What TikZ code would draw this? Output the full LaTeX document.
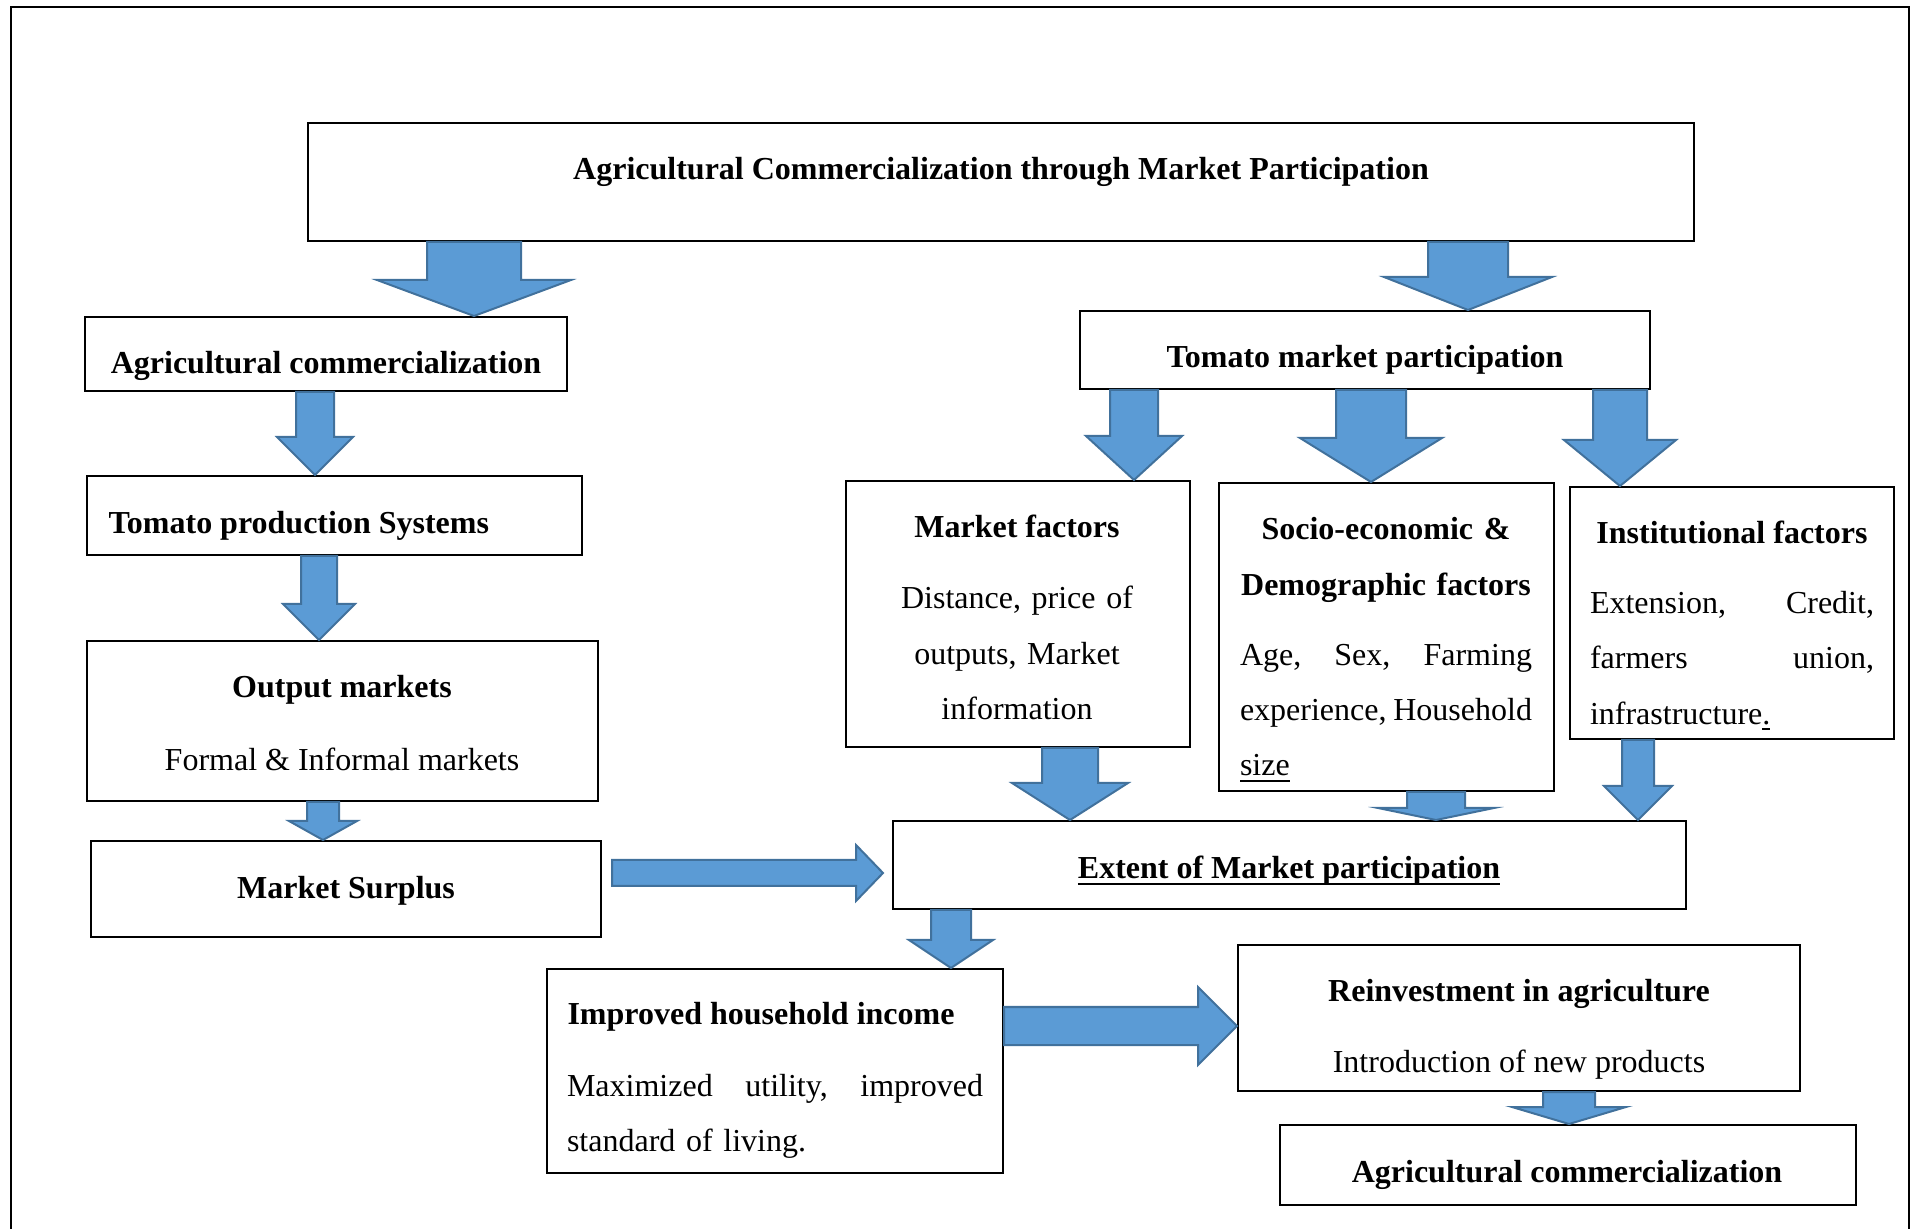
\documentclass[tikz,border=0pt]{standalone}
\usepackage{fontspec}
\setmainfont{Liberation Serif}
\usetikzlibrary{calc,fit}

\definecolor{arrowfill}{HTML}{5B9BD5}
\definecolor{arrowline}{HTML}{41719C}
\hyphenpenalty=10000
\hbadness=10000

% block arrows: from, to, shaft half width, head half width, head length
\newcommand\blkdown[5]{%
  \filldraw[blk] ($#1+(-#3,0)$) -- ($#2+(-#3,-#5)$) -- ($#2+(-#4,-#5)$) -- #2
    -- ($#2+(#4,-#5)$) -- ($#2+(#3,-#5)$) -- ($#1+(#3,0)$) -- cycle;}
% same, to the right, with a gap at each end
\newcommand\blkright[7]{%
  \filldraw[blk] ($#1+(#6,-#3)$) -- ($#2+(-#5-#7,-#3)$) -- ($#2+(-#5-#7,-#4)$) -- ($#2+(-#7,0)$)
    -- ($#2+(-#5-#7,#4)$) -- ($#2+(-#5-#7,#3)$) -- ($#1+(#6,#3)$) -- cycle;}
\newcommand\ulthick[1]{\leavevmode\setbox0\hbox{#1}\rlap{\rule[-2.4pt]{\wd0}{0.9pt}}\box0}

\begin{document}
\begin{tikzpicture}[x=0.375pt, y=-0.375pt,
factorbox/.style = {draw, line width=0.75pt, inner sep=0pt},
blk/.style = {draw=arrowline, fill=arrowfill, line width=0.75pt},
boldtext/.style = {font=\fontsize{12}{20.7}\selectfont\bfseries, inner sep=0pt},
plaintext/.style = {font=\fontsize{12}{20.7}\selectfont, inner sep=0pt}
                        ]
\useasboundingbox (0,0) rectangle (1919,1229);
\draw[line width=0.75pt] (11,1229) -- (11,7) -- (1909,7) -- (1909,1229);

%
\node (top)      [factorbox, fit={(308,123) (1694,241)}] {};
\node (agri)     [factorbox, fit={(85,317) (567,391)}] {};
\node (tomato)   [factorbox, fit={(1080,311) (1650,389)}] {};
\node (prod)     [factorbox, fit={(87,476) (582,555)}] {};
\node (output)   [factorbox, fit={(87,641) (598,801)}] {};
\node (surplus)  [factorbox, fit={(91,841) (601,937)}] {};
\node (market)   [factorbox, fit={(846,481) (1190,747)}] {};
\node (socio)    [factorbox, fit={(1219,483) (1554,791)}] {};
\node (inst)     [factorbox, fit={(1570,487) (1894,739)}] {};
\node (extent)   [factorbox, fit={(893,821) (1686,909)}] {};
\node (income)   [factorbox, fit={(547,969) (1003,1173)}] {};
\node (reinvest) [factorbox, fit={(1238,945) (1800,1091)}] {};
\node (agriend)  [factorbox, fit={(1280,1125) (1856,1205)}] {};

%
\node (topT)    [boldtext] at (1001,172) {Agricultural Commercialization through Market Participation};
\node (agriT)   [boldtext] at (326,366) {Agricultural commercialization};
\node (tomatoT) [boldtext] at (1365,360) {Tomato market participation};
\node (prodT)   [boldtext, anchor=west] at (108,526) {Tomato production Systems};
\node (outputT) [boldtext] at (342,690) {Output markets};
\node (outputS) [plaintext] at (342,759) {Formal \& Informal markets};
\node (surplusT) [boldtext] at (346,891) {Market Surplus};
\node (marketT) [boldtext] at (1017,526) {Market factors};
\node (marketS) [plaintext, text width=120pt, align=center] at (1017,653)
      {Distance, price of\\ outputs, Market\\ information};
\node (socioT)  [boldtext, text width=120pt, align=center] at (1386,560)
      {Socio-economic \&\\ Demographic factors};
\node (socioS)  [plaintext, text width=109.5pt, align=left] at (1386,713)
      {Age,\hfill Sex,\hfill Farming\\ experience,\hfill Household\\ \ulthick{size}};
\node (instT)   [boldtext] at (1732,532) {Institutional factors};
\node (instS)   [plaintext, text width=106.5pt, align=left] at (1732,661)
      {Extension,\hfill Credit,\\ farmers\hfill union,\\ infrastructure\ulthick{.}};
\node (extentT) [boldtext] at (1289,871) {\ulthick{Extent of Market participation}};
\node (incomeT) [boldtext, anchor=west] at (567,1017) {Improved household income};
\node (incomeS) [plaintext, text width=156pt, align=left] at (775,1116)
      {Maximized\hfill utility,\hfill improved\\ standard of living.};
\node (reinvestT) [boldtext] at (1519,994) {Reinvestment in agriculture};
\node (reinvestS) [plaintext] at (1519,1065) {Introduction of new products};
\node (agriendT) [boldtext] at (1567,1175) {Agricultural commercialization};

%
\foreach \src/\dst/\ax/\sw/\hw/\hl in {top/agri/474/47/97/36, top/tomato/1468/40/84/33,
    agri/prod/315/19/38/38, prod/output/319/18/36/36, output/surplus/323/16/34/19,
    tomato/market/1134/24/48/44, tomato/socio/1371/35/71/44, tomato/inst/1620/27/56/46,
    market/extent/1070/28/58/37, socio/extent/1436/29/58/12, inst/extent/1638/16/34/34,
    extent/income/951/20/42/28, reinvest/agriend/1569/26/57/17}
  {\blkdown{(\src.south -| \ax,0)}{(\dst.north -| \ax,0)}{\sw}{\hw}{\hl}}

\blkright{(surplus.east |- 0,873)}{(extent.west |- 0,873)}{13}{28}{27}{10}{9}
\blkright{(income.east |- 0,1026)}{(reinvest.west |- 0,1026)}{19}{39}{39}{0}{0}
\end{tikzpicture}
\end{document}
